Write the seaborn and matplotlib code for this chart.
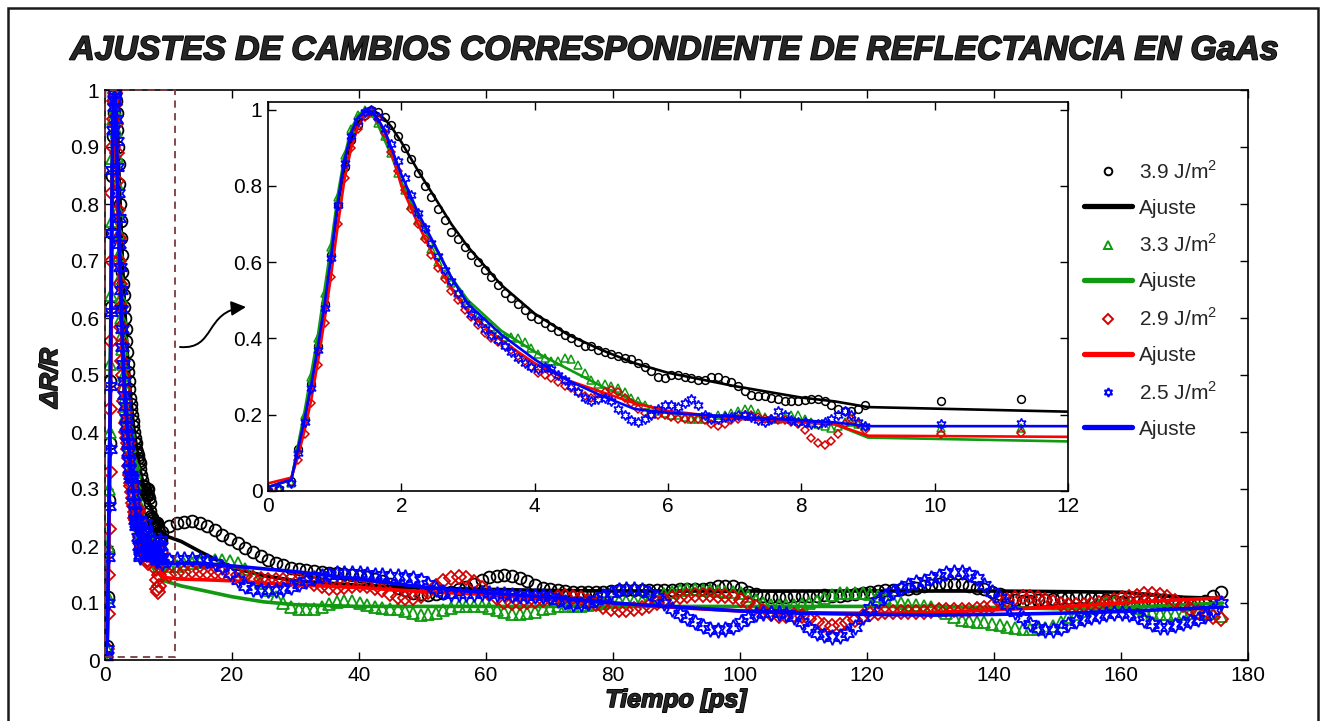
import numpy as np
import matplotlib
matplotlib.use("Agg")
import matplotlib.pyplot as plt
from matplotlib.lines import Line2D
from matplotlib.patches import Rectangle, FancyArrowPatch
from matplotlib.path import Path
import matplotlib.patheffects as pe
import seaborn as sns

# ---------------------------------------------------------------- data
# fast sampling (0 - 9 ps) and slow sampling (10 - 176 ps) of the transients
t_fast = np.array([0.0, 0.17, 0.35] + list(np.round(np.arange(0.45, 9.0, 0.1), 2)))
t_slow = np.round(np.arange(10.1, 176.0, 1.2), 1)

fast_39 = [0.0, 0.005, 0.025,
           0.11, 0.19, 0.28, 0.38, 0.49, 0.62, 0.75, 0.85, 0.92, 0.96,
           0.985, 1.0, 0.995, 0.98, 0.96, 0.93, 0.9, 0.87, 0.835, 0.8,
           0.77, 0.74, 0.71, 0.68, 0.66, 0.64, 0.62, 0.6, 0.58, 0.56,
           0.54, 0.52, 0.505, 0.49, 0.475, 0.46, 0.45, 0.44, 0.43, 0.42,
           0.41, 0.4, 0.39, 0.38, 0.38, 0.37, 0.365, 0.36, 0.355, 0.35,
           0.345, 0.335, 0.325, 0.315, 0.3, 0.295, 0.305, 0.305, 0.3, 0.295,
           0.29, 0.29, 0.3, 0.3, 0.29, 0.285, 0.275, 0.262, 0.252, 0.25,
           0.25, 0.245, 0.24, 0.237, 0.235, 0.235, 0.238, 0.24, 0.24, 0.235,
           0.225, 0.215, 0.21, 0.21, 0.215, 0.225]
fast_33 = [0.0, 0.005, 0.02,
           0.11, 0.2, 0.3, 0.4, 0.52, 0.64, 0.77, 0.88, 0.95, 0.985,
           1.0, 0.99, 0.965, 0.93, 0.885, 0.835, 0.79, 0.75, 0.71, 0.67,
           0.635, 0.6, 0.57, 0.545, 0.52, 0.5, 0.48, 0.46, 0.445, 0.43,
           0.415, 0.405, 0.405, 0.4, 0.39, 0.375, 0.36, 0.35, 0.34, 0.34,
           0.35, 0.345, 0.33, 0.31, 0.29, 0.28, 0.28, 0.275, 0.27, 0.26,
           0.245, 0.235, 0.225, 0.215, 0.21, 0.205, 0.2, 0.2, 0.195, 0.19,
           0.19, 0.19, 0.195, 0.2, 0.2, 0.205, 0.21, 0.215, 0.215, 0.205,
           0.195, 0.19, 0.19, 0.195, 0.2, 0.2, 0.19, 0.18, 0.175, 0.17,
           0.165, 0.17, 0.18, 0.18, 0.175, 0.17]
fast_29 = [0.0, 0.005, 0.02,
           0.08, 0.15, 0.23, 0.33, 0.44, 0.56, 0.7, 0.82, 0.9, 0.95,
           0.98, 0.995, 0.975, 0.94, 0.89, 0.84, 0.79, 0.74, 0.7, 0.66,
           0.62, 0.585, 0.555, 0.525, 0.5, 0.475, 0.455, 0.435, 0.415, 0.4,
           0.39, 0.38, 0.37, 0.355, 0.34, 0.325, 0.31, 0.305, 0.295, 0.285,
           0.275, 0.27, 0.26, 0.25, 0.245, 0.255, 0.26, 0.265, 0.26, 0.245,
           0.23, 0.215, 0.205, 0.2, 0.2, 0.2, 0.195, 0.19, 0.19, 0.19,
           0.19, 0.185, 0.175, 0.17, 0.175, 0.185, 0.19, 0.2, 0.2, 0.195,
           0.19, 0.19, 0.185, 0.185, 0.18, 0.175, 0.16, 0.14, 0.125, 0.12,
           0.13, 0.15, 0.175, 0.19, 0.175, 0.16]
fast_25 = [0.0, 0.005, 0.02,
           0.10, 0.18, 0.27, 0.37, 0.48, 0.61, 0.75, 0.86, 0.93, 0.97,
           0.995, 1.0, 0.98, 0.95, 0.91, 0.865, 0.82, 0.775, 0.73, 0.69,
           0.65, 0.615, 0.58, 0.55, 0.52, 0.49, 0.465, 0.445, 0.425, 0.41,
           0.395, 0.38, 0.365, 0.35, 0.335, 0.325, 0.32, 0.325, 0.32, 0.305,
           0.29, 0.275, 0.26, 0.245, 0.235, 0.24, 0.245, 0.235, 0.215, 0.2,
           0.185, 0.18, 0.19, 0.2, 0.215, 0.225, 0.225, 0.22, 0.23, 0.24,
           0.225, 0.2, 0.19, 0.19, 0.195, 0.195, 0.2, 0.2, 0.195, 0.185,
           0.18, 0.19, 0.21, 0.2, 0.185, 0.18, 0.18, 0.175, 0.175, 0.18,
           0.19, 0.2, 0.21, 0.2, 0.18, 0.17]

slow_39 = [0.235, 0.24, 0.242, 0.243, 0.24, 0.235, 0.228, 0.22, 0.212, 0.205,
           0.197, 0.19, 0.183, 0.176, 0.17, 0.166, 0.162, 0.16, 0.158, 0.156,
           0.155, 0.153, 0.152, 0.151, 0.15, 0.148, 0.145, 0.142, 0.138, 0.133,
           0.127, 0.122, 0.118, 0.115, 0.114, 0.115, 0.117, 0.12, 0.124, 0.128,
           0.134, 0.14, 0.145, 0.148, 0.149, 0.147, 0.143, 0.138, 0.132, 0.127,
           0.124, 0.122, 0.121, 0.12, 0.12, 0.12, 0.12, 0.12, 0.121, 0.122,
           0.123, 0.123, 0.123, 0.123, 0.122, 0.122, 0.123, 0.124, 0.124, 0.124,
           0.125, 0.127, 0.129, 0.13, 0.129, 0.126, 0.12, 0.115, 0.112, 0.111,
           0.111, 0.111, 0.112, 0.112, 0.113, 0.113, 0.114, 0.113, 0.113, 0.114,
           0.115, 0.117, 0.119, 0.121, 0.122, 0.123, 0.124, 0.125, 0.127, 0.129,
           0.131, 0.133, 0.134, 0.134, 0.133, 0.13, 0.127, 0.124, 0.12, 0.115,
           0.11, 0.106, 0.104, 0.104, 0.105, 0.106, 0.107, 0.108, 0.109, 0.11,
           0.11, 0.109, 0.108, 0.106, 0.104, 0.102, 0.102, 0.102, 0.103, 0.103,
           0.102, 0.101, 0.1, 0.099, 0.099, 0.1, 0.104, 0.112, 0.12]
slow_33 = [0.165, 0.165, 0.168, 0.17, 0.172, 0.174, 0.175, 0.175, 0.174, 0.17,
           0.16, 0.148, 0.135, 0.122, 0.11, 0.1, 0.093, 0.09, 0.089, 0.09,
           0.093, 0.098, 0.102, 0.104, 0.103, 0.1, 0.096, 0.093, 0.091, 0.09,
           0.089, 0.086, 0.082, 0.079, 0.08, 0.083, 0.087, 0.091, 0.094, 0.095,
           0.095, 0.094, 0.092, 0.088, 0.084, 0.081, 0.081, 0.082, 0.085, 0.089,
           0.092, 0.094, 0.095, 0.095, 0.095, 0.096, 0.098, 0.1, 0.102, 0.103,
           0.103, 0.103, 0.104, 0.106, 0.11, 0.115, 0.12, 0.123, 0.124, 0.124,
           0.123, 0.122, 0.121, 0.12, 0.119, 0.117, 0.112, 0.106, 0.1, 0.097,
           0.096, 0.096, 0.097, 0.098, 0.1, 0.104, 0.109, 0.114, 0.117, 0.118,
           0.118, 0.117, 0.116, 0.113, 0.109, 0.104, 0.1, 0.097, 0.096, 0.095,
           0.093, 0.088, 0.082, 0.076, 0.071, 0.068, 0.067, 0.066, 0.064, 0.061,
           0.058, 0.056, 0.055, 0.055, 0.055, 0.056, 0.06, 0.067, 0.075, 0.081,
           0.086, 0.091, 0.096, 0.1, 0.101, 0.1, 0.097, 0.092, 0.087, 0.083,
           0.081, 0.08, 0.08, 0.081, 0.082, 0.082, 0.083, 0.083, 0.078]
slow_29 = [0.15, 0.152, 0.155, 0.157, 0.156, 0.155, 0.154, 0.153, 0.152, 0.15,
           0.147, 0.144, 0.142, 0.14, 0.14, 0.141, 0.142, 0.141, 0.138, 0.134,
           0.13, 0.127, 0.126, 0.128, 0.13, 0.131, 0.13, 0.127, 0.122, 0.116,
           0.111, 0.108, 0.108, 0.112, 0.12, 0.13, 0.138, 0.143, 0.145, 0.143,
           0.136, 0.126, 0.116, 0.108, 0.102, 0.1, 0.1, 0.101, 0.103, 0.106,
           0.109, 0.111, 0.112, 0.111, 0.108, 0.103, 0.098, 0.093, 0.09, 0.088,
           0.088, 0.089, 0.091, 0.095, 0.1, 0.105, 0.109, 0.111, 0.113, 0.114,
           0.114, 0.114, 0.113, 0.112, 0.11, 0.106, 0.1, 0.093, 0.086, 0.08,
           0.078, 0.078, 0.079, 0.077, 0.072, 0.066, 0.062, 0.06, 0.061, 0.065,
           0.071, 0.077, 0.081, 0.083, 0.084, 0.084, 0.085, 0.085, 0.085, 0.085,
           0.086, 0.087, 0.087, 0.087, 0.087, 0.088, 0.089, 0.091, 0.095, 0.101,
           0.106, 0.109, 0.11, 0.11, 0.109, 0.106, 0.102, 0.098, 0.096, 0.096,
           0.097, 0.098, 0.1, 0.102, 0.105, 0.108, 0.111, 0.113, 0.115, 0.116,
           0.114, 0.11, 0.104, 0.097, 0.09, 0.085, 0.08, 0.075, 0.072]
slow_25 = [0.175, 0.177, 0.178, 0.177, 0.176, 0.174, 0.17, 0.163, 0.152, 0.14,
           0.13, 0.124, 0.122, 0.122, 0.123, 0.125, 0.128, 0.133, 0.138, 0.143,
           0.147, 0.15, 0.152, 0.153, 0.153, 0.152, 0.151, 0.15, 0.149, 0.148,
           0.147, 0.146, 0.144, 0.14, 0.133, 0.125, 0.119, 0.116, 0.115, 0.115,
           0.116, 0.117, 0.117, 0.116, 0.115, 0.114, 0.113, 0.113, 0.113, 0.112,
           0.11, 0.106, 0.102, 0.099, 0.098, 0.1, 0.105, 0.112, 0.118, 0.122,
           0.124, 0.124, 0.122, 0.118, 0.11, 0.1, 0.09, 0.08, 0.073, 0.067,
           0.06, 0.055, 0.053, 0.054, 0.058, 0.066, 0.074, 0.08, 0.082, 0.082,
           0.082, 0.08, 0.075, 0.066, 0.056, 0.048, 0.043, 0.041, 0.042, 0.047,
           0.058, 0.075, 0.092, 0.104, 0.113, 0.12, 0.127, 0.132, 0.136, 0.139,
           0.143, 0.148, 0.152, 0.155, 0.155, 0.151, 0.143, 0.132, 0.12, 0.108,
           0.096, 0.085, 0.073, 0.063, 0.056, 0.053, 0.053, 0.057, 0.063, 0.068,
           0.072, 0.075, 0.078, 0.08, 0.082, 0.082, 0.081, 0.077, 0.07, 0.063,
           0.058, 0.058, 0.061, 0.065, 0.069, 0.072, 0.078, 0.088, 0.1]

# fitted curves
t_fit = [0, 0.35, 0.45, 0.55, 0.65, 0.75, 0.85, 0.95, 1.05, 1.15,
         1.25, 1.35, 1.45, 1.55, 1.65, 1.75, 1.85, 2.0, 2.25, 2.5,
         2.75, 3.0, 3.5, 4.0, 4.5, 5.0, 5.5, 6.0, 7.0, 8.0,
         8.5, 9.0, 12.0, 15, 20, 25, 30, 40, 50, 60,
         70, 80, 90, 100, 110, 120, 130, 140, 150, 160,
         170, 176]
fit_39 = [0.01, 0.03, 0.11, 0.19, 0.28, 0.38, 0.5, 0.62, 0.75, 0.85,
          0.92, 0.965, 0.99, 1.0, 0.99, 0.975, 0.955, 0.915, 0.84, 0.77,
          0.7, 0.64, 0.54, 0.465, 0.41, 0.37, 0.335, 0.31, 0.275, 0.245,
          0.235, 0.22, 0.208, 0.19, 0.162, 0.148, 0.139, 0.131, 0.126, 0.124,
          0.122, 0.121, 0.121, 0.121, 0.121, 0.121, 0.121, 0.121, 0.12, 0.119,
          0.11, 0.108]
fit_33 = [0.01, 0.03, 0.12, 0.21, 0.31, 0.41, 0.53, 0.65, 0.78, 0.88,
          0.95, 0.985, 1.0, 0.99, 0.96, 0.92, 0.88, 0.81, 0.72, 0.64,
          0.56, 0.5, 0.42, 0.365, 0.32, 0.275, 0.235, 0.205, 0.19, 0.18,
          0.175, 0.14, 0.13, 0.123, 0.111, 0.102, 0.097, 0.094, 0.094, 0.094,
          0.094, 0.094, 0.094, 0.094, 0.094, 0.094, 0.094, 0.092, 0.09, 0.092,
          0.097, 0.1]
fit_29 = [0.02, 0.035, 0.09, 0.16, 0.24, 0.34, 0.45, 0.57, 0.7, 0.82,
          0.9, 0.955, 0.985, 0.995, 0.975, 0.94, 0.89, 0.8, 0.7, 0.61,
          0.53, 0.47, 0.395, 0.335, 0.29, 0.26, 0.23, 0.21, 0.19, 0.18,
          0.175, 0.145, 0.142, 0.141, 0.139, 0.135, 0.132, 0.127, 0.12, 0.115,
          0.107, 0.1, 0.092, 0.086, 0.083, 0.082, 0.083, 0.088, 0.093, 0.1,
          0.106, 0.109]
fit_25 = [0.01, 0.03, 0.11, 0.19, 0.28, 0.38, 0.49, 0.62, 0.76, 0.87,
          0.94, 0.98, 0.995, 0.995, 0.975, 0.945, 0.9, 0.83, 0.73, 0.645,
          0.56, 0.49, 0.41, 0.345, 0.29, 0.25, 0.215, 0.205, 0.195, 0.185,
          0.18, 0.17, 0.17, 0.17, 0.165, 0.16, 0.155, 0.142, 0.128, 0.118,
          0.11, 0.1, 0.093, 0.086, 0.082, 0.08, 0.079, 0.08, 0.082, 0.085,
          0.09, 0.093]

labels = ["3.9 J/m$^\\mathregular{2}$", "3.3 J/m$^\\mathregular{2}$",
          "2.9 J/m$^\\mathregular{2}$", "2.5 J/m$^\\mathregular{2}$"]
x_ticks_main = list(range(0, 181, 20))
y_ticks_main = [0, 0.1, 0.2, 0.3, 0.4, 0.5, 0.6, 0.7, 0.8, 0.9, 1]
x_ticks_inset = [0, 2, 4, 6, 8, 10, 12]
y_ticks_inset = [0, 0.2, 0.4, 0.6, 0.8, 1]

# ---------------------------------------------------------------- style
sns.set_style("ticks")
plt.rcParams["font.family"] = ["Liberation Sans", "DejaVu Sans"]
plt.rcParams["mathtext.fontset"] = "custom"
plt.rcParams["mathtext.rm"] = "Liberation Sans"
plt.rcParams["axes.edgecolor"] = "black"
plt.rcParams["axes.linewidth"] = 1.2

STAR6 = (6, 1, 0)
series = [
    (labels[0], fast_39, slow_39, fit_39, "o", "#000000", "#000000"),
    (labels[1], fast_33, slow_33, fit_33, "^", "#0f9a0f", "#0f9a0f"),
    (labels[2], fast_29, slow_29, fit_29, "D", "#d40000", "#ff0000"),
    (labels[3], fast_25, slow_25, fit_25, STAR6, "#0000ff", "#0000ff"),
]


def marker_scale(mk):
    if mk == "D":
        return 0.8
    if isinstance(mk, tuple):
        return 1.3
    return 1.0


W, H = 1325, 721
fig = plt.figure(figsize=(W / 100, H / 100), dpi=100)


def fx(px):
    return px / W


def fy(py):
    return 1 - py / H


def draw_series(ax, ms, mew, lw):
    for lab, fast, slow, fit, mk, mcol, lcol in series:
        t = np.concatenate([t_fast, t_slow])
        v = np.concatenate([fast, slow])
        sns.lineplot(x=t, y=v, ax=ax, linestyle="", marker=mk,
                     markersize=ms * marker_scale(mk),
                     markerfacecolor="none", markeredgecolor=mcol,
                     markeredgewidth=mew, estimator=None, sort=False,
                     legend=False)
        sns.lineplot(x=t_fit, y=fit, ax=ax, color=lcol, linewidth=lw,
                     estimator=None, sort=False, legend=False)


def style_axes(ax, xt, yt, xlim, ylim, fs):
    ax.set_xlim(*xlim)
    ax.set_ylim(*ylim)
    ax.set_xticks(xt)
    ax.set_yticks(yt)
    ax.set_xticklabels([f"{v:g}" for v in xt])
    ax.set_yticklabels([f"{v:g}" for v in yt])
    ax.tick_params(direction="in", top=True, right=True, length=6, width=1,
                   labelsize=fs, pad=4, colors="black")
    for s in ax.spines.values():
        s.set_visible(True)
        s.set_color("black")
        s.set_linewidth(1.2)
    ax.set_xlabel("")
    ax.set_ylabel("")


# ---------------------------------------------------------------- main axes
ax = fig.add_axes([fx(105), fy(660), fx(1248) - fx(105), fy(90) - fy(660)])
draw_series(ax, ms=8.5, mew=1.3, lw=2.6)
style_axes(ax, x_ticks_main, y_ticks_main, (0, 180), (0, 1), 15)

# dashed box marking the zoomed region
ax.add_patch(Rectangle((0, 0.005), 11, 0.995, fill=False, edgecolor="#7a3c3c",
                       linestyle=(0, (4, 3)), linewidth=1.3, zorder=6,
                       clip_on=False))

# ---------------------------------------------------------------- inset
axi = fig.add_axes([fx(268), fy(491), fx(1068) - fx(268), fy(102) - fy(491)])
axi.set_facecolor("white")
axi.set_zorder(5)
draw_series(axi, ms=5.6, mew=1.1, lw=1.9)
style_axes(axi, x_ticks_inset, y_ticks_inset, (0, 12), (0, 1.02), 15)

# ---------------------------------------------------------------- legend
handles = []
leg_labels = []
for lab, fast, slow, fit, mk, mcol, lcol in series:
    handles.append(Line2D([], [], linestyle="", marker=mk,
                          markersize=5.5 * marker_scale(mk) ** 0.5,
                          markerfacecolor="none", markeredgecolor=mcol,
                          markeredgewidth=1.4))
    leg_labels.append(lab)
    handles.append(Line2D([], [], color=lcol, linewidth=3.8))
    leg_labels.append("Ajuste")
leg = ax.legend(handles, leg_labels, loc="upper left",
                bbox_to_anchor=(fx(1084), fy(160)), bbox_transform=fig.transFigure,
                frameon=False, fontsize=15, handlelength=2.3, handletextpad=0.35,
                labelspacing=0.77, borderpad=0, borderaxespad=0)
leg.set_zorder(7)

# ---------------------------------------------------------------- labels
heavy = [pe.withStroke(linewidth=1.2, foreground="black")]
narrow = ["Liberation Sans Narrow", "Liberation Sans", "DejaVu Sans"]
title = fig.text(fx(675), fy(51), "AJUSTES DE CAMBIOS CORRESPONDIENTE DE REFLECTANCIA EN GaAs",
                 ha="center", va="center", fontsize=26, fontweight="bold",
                 fontstyle="italic", family=narrow, path_effects=heavy)
fig.text(fx(676), fy(700), "Tiempo [ps]", ha="center", va="center",
         fontsize=18, fontweight="bold", fontstyle="italic", family=narrow,
         path_effects=heavy)
fig.text(fx(50), fy(378), "\u0394R/R", ha="center", va="center", rotation=90,
         fontsize=18, fontweight="bold", fontstyle="italic", family=narrow,
         path_effects=heavy)

# fit title width to the frame
renderer = fig.canvas.get_renderer()
w = title.get_window_extent(renderer).width
title.set_fontsize(26 * 1210 / w)

# curved arrow pointing from the dashed box to the inset
pts = [(180, 347), (216, 350), (204, 311), (246, 307)]
arrow_path = Path([(fx(x), fy(y)) for x, y in pts],
                  [Path.MOVETO, Path.CURVE4, Path.CURVE4, Path.CURVE4])
fig.add_artist(FancyArrowPatch(path=arrow_path, arrowstyle="-|>",
                               mutation_scale=22, color="black", linewidth=1.4,
                               transform=fig.transFigure))

# outer frame
fig.add_artist(Rectangle((fx(8), -0.02), fx(1318) - fx(8), fy(8) + 0.02,
                         fill=False, edgecolor="#1a1a1a", linewidth=1.8,
                         transform=fig.transFigure))

fig.savefig("out.png", dpi=100)
